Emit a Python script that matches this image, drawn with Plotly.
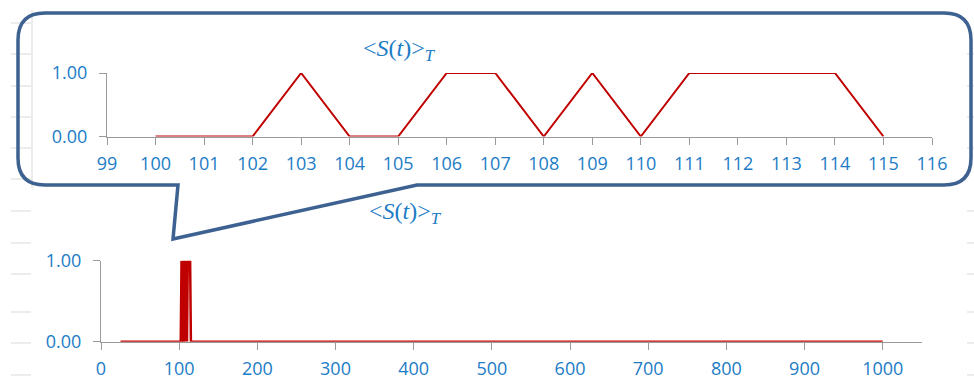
import plotly.graph_objects as go

W, H = 974, 387

# Time steps 100..115 and the averaged signal <S(t)>_T over that window
window_t = [100, 101, 102, 103, 104, 105, 106, 107, 108, 109, 110, 111, 112, 113, 114, 115]
window_s = [0, 0, 0, 1, 0, 0, 1, 1, 0, 1, 0, 1, 1, 1, 1, 0]

# Full run: flat zero before and after the active window
full_t = [25] + window_t + [1000]
full_s = [0] + window_s + [0]

top_xticks = list(range(99, 117))
bottom_xticks = [0, 100, 200, 300, 400, 500, 600, 700, 800, 900, 1000]
y_ticks = [0, 1]

BLUE_TEXT = "#1C7CC6"
RED = "#C00000"
AXIS_GRAY = "#9A9A9A"
FRAME = "#3D6190"
FAINT = "#D9D9D9"
TICK_FONT = dict(family="Open Sans", size=18, color=BLUE_TEXT)


def px(x):
    return x / W


def py(y):
    return 1 - y / H


fig = go.Figure()
fig.add_trace(go.Scatter(x=window_t, y=window_s, mode="lines",
                         line=dict(color=RED, width=2), xaxis="x", yaxis="y",
                         showlegend=False, hoverinfo="skip"))
fig.add_trace(go.Scatter(x=full_t, y=full_s, mode="lines",
                         line=dict(color=RED, width=2.5), xaxis="x2", yaxis="y2",
                         showlegend=False, hoverinfo="skip"))

axis_common = dict(showline=True, linecolor=AXIS_GRAY, linewidth=1,
                   ticks="outside", ticklen=7, tickcolor=AXIS_GRAY, tickwidth=1,
                   tickfont=TICK_FONT, zeroline=False, fixedrange=True,
                   automargin=False)

fig.update_layout(
    width=W, height=H, autosize=False,
    margin=dict(l=0, r=0, t=0, b=0, pad=0, autoexpand=False),
    paper_bgcolor="white", plot_bgcolor="white",
    xaxis=dict(domain=[px(107), px(932)], range=[99, 116], tickvals=top_xticks,
               showgrid=False, anchor="y", ticklabelstandoff=4, **axis_common),
    yaxis=dict(domain=[py(136.5), py(73)], range=[0, 1], tickvals=y_ticks,
               tickformat=".2f", showgrid=True, gridcolor=AXIS_GRAY, gridwidth=1,
               anchor="x", ticklabelstandoff=8, **axis_common),
    xaxis2=dict(domain=[px(101), px(921.8)], range=[0, 1050], tickvals=bottom_xticks,
                showgrid=False, anchor="y2", ticklabelstandoff=4, **axis_common),
    yaxis2=dict(domain=[py(341.7), py(260.7)], range=[0, 1], tickvals=y_ticks,
                tickformat=".2f", showgrid=True, gridcolor=AXIS_GRAY, gridwidth=1,
                anchor="x2", ticklabelstandoff=8, **axis_common),
)

title_text = "&lt;<i>S</i>(<i>t</i>)&gt;<sub><i>T</i></sub>"
title_font = dict(family="Liberation Serif", size=24, color=BLUE_TEXT)
fig.add_annotation(x=px(399), y=py(50), xref="paper", yref="paper", text=title_text,
                   showarrow=False, font=title_font, xanchor="center", yanchor="middle")
fig.add_annotation(x=px(405), y=py(213), xref="paper", yref="paper", text=title_text,
                   showarrow=False, font=title_font, xanchor="center", yanchor="middle")

shapes = []
# faint spreadsheet row marks in the background
left_rows = [23, 54, 86, 117, 148, 179, 211, 243, 274, 312, 343, 375]
right_rows = [54, 86, 117, 148, 211, 243, 274, 312, 343, 375]
for r in left_rows:
    shapes.append(dict(type="line", xref="paper", yref="paper", layer="below",
                       x0=px(11), x1=px(31), y0=py(r), y1=py(r),
                       line=dict(color=FAINT, width=1)))
for r in right_rows:
    shapes.append(dict(type="line", xref="paper", yref="paper", layer="below",
                       x0=px(967), x1=px(974), y0=py(r), y1=py(r),
                       line=dict(color=FAINT, width=1)))
shapes.append(dict(type="line", xref="paper", yref="paper", layer="below",
                   x0=px(32), x1=px(32), y0=py(10), y1=py(188),
                   line=dict(color=FAINT, width=1)))

# rounded callout with a pointer down toward the spike
L, T, R, B, rad = 18, 13, 971, 185, 27
pts = [
    ("M", (L + rad, T)), ("L", (R - rad, T)), ("Q", (R, T), (R, T + rad)),
    ("L", (R, B - rad)), ("Q", (R, B), (R - rad, B)),
    ("L", (417, B)), ("L", (173, 239)), ("L", (178, B)),
    ("L", (L + rad, B)), ("Q", (L, B), (L, B - rad)),
    ("L", (L, T + rad)), ("Q", (L, T), (L + rad, T)),
]
path = ""
for seg in pts:
    cmd = seg[0]
    coords = " ".join(f"{px(a):.5f},{py(b):.5f}" for a, b in seg[1:])
    path += f"{cmd} {coords} "
path += "Z"
shapes.append(dict(type="path", xref="paper", yref="paper", path=path, layer="above",
                   line=dict(color=FRAME, width=3.5), fillcolor="rgba(0,0,0,0)"))

fig.update_layout(shapes=shapes)
fig.write_html("out.html")
